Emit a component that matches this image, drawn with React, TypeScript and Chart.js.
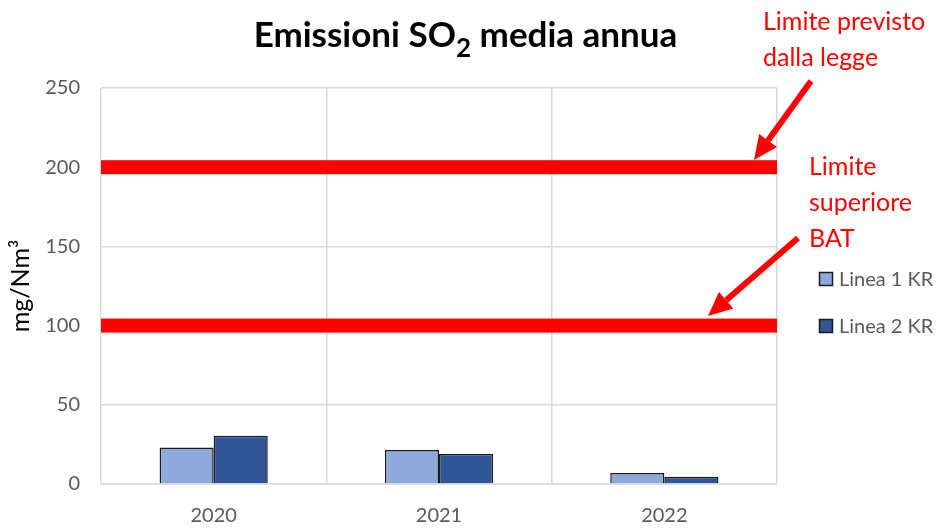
import React, { useEffect, useRef } from "react";
import { Chart, registerables } from "chart.js";

Chart.register(...registerables);

const categories = ["2020", "2021", "2022"];
const linea1 = [23, 21.5, 7];
const linea2 = [30.5, 19, 4.5];
const yTicks = [0, 50, 100, 150, 200, 250];
const limitValues = [200, 100];
const titleParts = ["Emissioni SO", "2", " media annua"];
const yTitle = "mg/Nm³";
const note1 = ["Limite previsto", "dalla legge"];
const note2 = ["Limite", "superiore", "BAT"];

const FONT = "Lato, 'Noto Sans', sans-serif";

function drawArrow(ctx: CanvasRenderingContext2D, x1: number, y1: number, x2: number, y2: number) {
  const ang = Math.atan2(y2 - y1, x2 - x1);
  const headLen = 24;
  const headW = 11;
  const bx = x2 - headLen * Math.cos(ang);
  const by = y2 - headLen * Math.sin(ang);
  ctx.save();
  ctx.strokeStyle = "#ff0000";
  ctx.fillStyle = "#ff0000";
  ctx.lineWidth = 6;
  ctx.beginPath();
  ctx.moveTo(x1, y1);
  ctx.lineTo(bx, by);
  ctx.stroke();
  ctx.beginPath();
  ctx.moveTo(x2, y2);
  ctx.lineTo(bx + headW * Math.sin(ang), by - headW * Math.cos(ang));
  ctx.lineTo(bx - headW * Math.sin(ang), by + headW * Math.cos(ang));
  ctx.closePath();
  ctx.fill();
  ctx.restore();
}

const overlayPlugin = {
  id: "overlay",
  afterDatasetsDraw(chart: any) {
    const ctx: CanvasRenderingContext2D = chart.ctx;
    const y = chart.scales.y;
    const area = chart.chartArea;
    ctx.save();
    ctx.fillStyle = "#ff0000";
    limitValues.forEach((v) => {
      const py = y.getPixelForValue(v);
      ctx.fillRect(area.left, py - 7, area.right - area.left, 14);
    });
    ctx.restore();
  },
  afterDraw(chart: any) {
    const ctx: CanvasRenderingContext2D = chart.ctx;
    ctx.save();
    // title
    ctx.fillStyle = "#000000";
    ctx.textBaseline = "alphabetic";
    const big = `bold 35px ${FONT}`;
    const small = `bold 26px ${FONT}`;
    ctx.font = big;
    const w1 = ctx.measureText(titleParts[0]).width;
    const w3 = ctx.measureText(titleParts[2]).width;
    ctx.font = small;
    const w2 = ctx.measureText(titleParts[1]).width;
    const total = w1 + w2 + w3;
    let x = 465.5 - total / 2;
    const base = 47;
    ctx.textAlign = "left";
    ctx.font = big;
    ctx.fillText(titleParts[0], x, base);
    x += w1;
    ctx.font = small;
    ctx.fillText(titleParts[1], x, base + 10);
    x += w2;
    ctx.font = big;
    ctx.fillText(titleParts[2], x, base);

    // legend
    const items = chart.data.datasets;
    const legendY = [279, 326];
    ctx.font = `20px ${FONT}`;
    ctx.textBaseline = "middle";
    items.forEach((ds: any, i: number) => {
      const cy = legendY[i];
      ctx.fillStyle = ds.backgroundColor;
      ctx.fillRect(819, cy - 7, 14, 14);
      ctx.strokeStyle = "#1a1a1a";
      ctx.lineWidth = 1.5;
      ctx.strokeRect(819.5, cy - 6.5, 13, 13);
      ctx.fillStyle = "#595959";
      ctx.fillText(ds.label, 839, cy + 1);
    });

    // annotations
    ctx.fillStyle = "#ff0000";
    ctx.font = `25px ${FONT}`;
    ctx.textBaseline = "middle";
    note1.forEach((t, i) => ctx.fillText(t, 763, 22 + i * 36));
    note2.forEach((t, i) => ctx.fillText(t, 809, 167 + i * 36));
    drawArrow(ctx, 811, 81, 754, 160);
    drawArrow(ctx, 798, 238, 708, 316);
    ctx.restore();
  },
};

export default function App() {
  const ref = useRef<HTMLCanvasElement>(null);
  useEffect(() => {
    document.body.style.margin = "0";
    const chart = new Chart(ref.current!, {
      type: "bar",
      data: {
        labels: categories,
        datasets: [
          {
            label: "Linea 1 KR",
            data: linea1,
            backgroundColor: "#8eaadb",
            borderColor: "#1a1a1a",
            borderWidth: 1.5,
            categoryPercentage: 0.48,
            barPercentage: 1,
          },
          {
            label: "Linea 2 KR",
            data: linea2,
            backgroundColor: "#2f5597",
            borderColor: "#1a1a1a",
            borderWidth: 1.5,
            categoryPercentage: 0.48,
            barPercentage: 1,
          },
        ],
      },
      options: {
        animation: false,
        responsive: false,
        layout: { padding: { left: 0, right: 164, top: 88, bottom: 0 } },
        plugins: { legend: { display: false }, title: { display: false }, tooltip: { enabled: false } },
        scales: {
          x: {
            grid: { color: "#d9d9d9", lineWidth: 1.5, drawTicks: false, offset: true },
            border: { color: "#d9d9d9", width: 1.5 },
            ticks: { color: "#595959", font: { family: FONT, size: 20 }, padding: 20 },
            afterFit: (s: any) => {
              s.height = 44;
            },
          },
          y: {
            min: 0,
            max: 250,
            afterBuildTicks: (s: any) => {
              s.ticks = yTicks.map((v) => ({ value: v }));
            },
            grid: { color: "#d9d9d9", lineWidth: 1.5, drawTicks: false },
            border: { display: false },
            ticks: { color: "#595959", font: { family: FONT, size: 20 }, padding: 21 },
            title: {
              display: true,
              text: yTitle,
              color: "#000000",
              font: { family: FONT, size: 25 },
              padding: { top: 6, bottom: 0 },
            },
            afterFit: (s: any) => {
              s.width = 101;
            },
          },
        },
      },
      plugins: [overlayPlugin],
    });
    return () => chart.destroy();
  }, []);
  return (
    <div style={{ position: "absolute", left: 0, top: 0, width: 941, height: 528, background: "#fff" }}>
      <canvas ref={ref} width={941} height={528} style={{ width: 941, height: 528 }} />
    </div>
  );
}
